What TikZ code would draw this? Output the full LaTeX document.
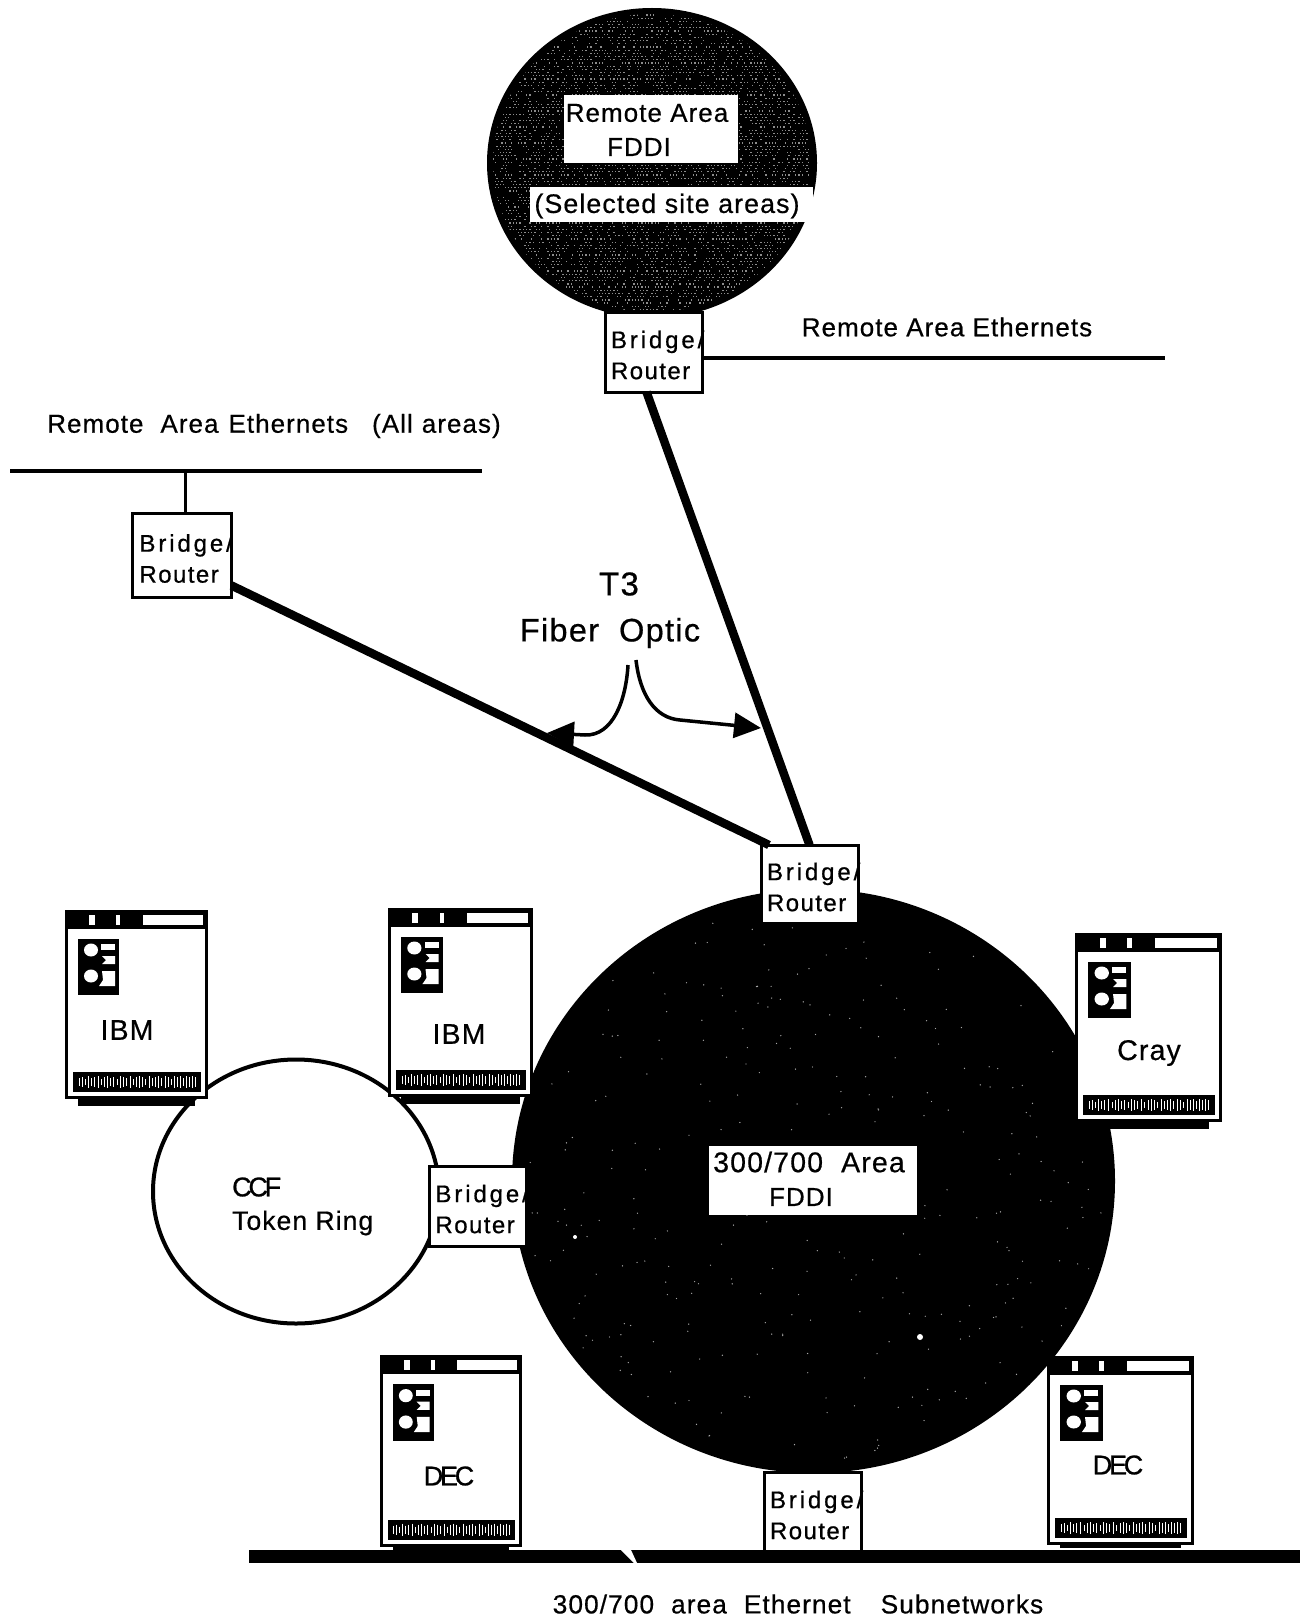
\documentclass[tikz,border=0pt]{standalone}
\usepackage{fontspec}
\setmainfont{Liberation Sans}
\usetikzlibrary{arrows.meta}
\newfontfamily\labelfont[FakeBold=0.55,LetterSpace=4]{Liberation Sans}
\newfontfamily\bridgefont[FakeBold=0.7,LetterSpace=12]{Liberation Sans}
\newfontfamily\routerfont[FakeBold=0.7,LetterSpace=6]{Liberation Sans}
\newfontfamily\tightfont[FakeBold=0.9,LetterSpace=-12]{Liberation Sans}
\newcommand{\brtext}{\mbox{}\\[-7.5pt]{\bridgefont Bridge/}\\{\routerfont Router}}
\tikzset{
  bridgebox/.style={draw=black,fill=white,line width=3,minimum width=97,minimum height=80,inner xsep=6,inner ysep=0,outer sep=0,
    text width=85,align=left,font=\fontsize{24}{31}\selectfont},
  plainlabel/.style={inner sep=0,align=center,font=\labelfont\fontsize{26}{34}\selectfont},
  biglabel/.style={plainlabel,font=\labelfont\fontsize{28.5}{34}\selectfont},
  tightlabel/.style={inner sep=0,font=\tightfont\fontsize{27}{32}\selectfont},
  ether/.style={line width=4},
  fibre/.style={line width=8.5},
  pointer/.style={line width=3.5,-{Triangle[length=27,width=25]}},
}
% #1 x, #2 y, #3 width, #4 height, #5 foot depth
\newcommand{\compbody}[5]{%
  \begin{scope}[shift={(#1,#2)},xscale=#3/143,yscale=#4/189]
    \fill[black] (13,185) rectangle (130,189+#5);
    \filldraw[draw=black,fill=white,line width=3.5] (1.5,1.5) rectangle (141.5,187.5);
    \fill[black] (2,2) rectangle (141,19);
    \fill[white] (78,5) rectangle (138,15);
    \fill[white] (24,5) rectangle (30,15);
    \fill[white] (51,5) rectangle (55,15);
    \fill[black] (13,29) rectangle (54,85);
    \fill[white] (26,40) ellipse (7 and 6.5);
    \fill[white] (26,66) ellipse (7 and 6.5);
    \fill[white] (36,34) rectangle (50,40);
    \fill[white] (37,46) -- (50,46) -- (50,54) -- (37,54) -- (41,50) -- cycle;
    \fill[white] (37,61) -- (50,61) -- (50,76) -- (34,76) -- (38,70) -- cycle;
    \fill[black] (8,162) rectangle (136,182);
    \foreach \tx/\th in {14/4,17/5,20/3,23/6,26/4,29/5,33/6,36/3,39/5,42/6,45/4,48/5,52/3,55/6,58/5,61/4,65/6,68/3,71/5,74/6,77/5,80/3,84/6,87/4,90/5,93/6,96/4,100/6,103/5,106/3,109/6,112/5,115/6,118/4,121/6,124/5,127/6,130/5}
      \draw[white,line width=1] (\tx,172-\th) -- (\tx,172+\th);
  \end{scope}%
}
\begin{document}
\begin{tikzpicture}[x=1pt,y=-1pt]
\useasboundingbox (0,0) rectangle (1300,1621);
\fill[white] (0,0) rectangle (1300,1621);

% named free ends
\coordinate (rightL) at (702,358);
\coordinate (rightR) at (1165,358);
\coordinate (leftL) at (10,471);
\coordinate (leftR) at (482,471);
\coordinate (leftStub) at (185,471);
\coordinate (busL) at (249,1556);
\coordinate (busR) at (1300,1556);
\coordinate (ptrA) at (628,665);
\coordinate (ptrB) at (636,660);
\coordinate (ptrAend) at (547,733);
\coordinate (ptrBend) at (761,728);

% upper FDDI cloud
\fill[black] (652,163) ellipse (165 and 155);
\begin{scope}
  \clip (652,163) ellipse (159 and 149);
  \pgfmathsetseed{17}
  \foreach \iy in {0,...,96}{
    \foreach \ix in {0,...,100}{
      \pgfmathsetmacro{\px}{488+3.3*\ix+1.65*mod(\iy,2)}
      \pgfmathsetmacro{\py}{8+3.2*\iy}
      \pgfmathparse{rnd<0.55?1:0}
      \ifnum\pgfmathresult=1\relax
        \fill[white!55!black] (\px,\py) rectangle +(1.3,1.3);
      \fi
    }
  }
\end{scope}
\fill[white] (564,95) rectangle (738,163);
\fill[white] (530,187) rectangle (813,222);
\node[plainlabel] (upA) at (647,113) {Remote Area};
\node[plainlabel] (upB) at (639,147) {FDDI};
\node[plainlabel,font=\labelfont\fontsize{26.8}{34}\selectfont] (upC) at (667,206) {(Selected site areas)};

% main FDDI
\fill[black] (813.5,1181) ellipse (301.5 and 292);
\begin{scope}
  \clip (813.5,1181) ellipse (290 and 280);
  \pgfmathsetseed{5}
  \foreach \i in {1,...,300}{
    \pgfmathsetmacro{\ang}{rnd*360}
    \pgfmathsetmacro{\rad}{sqrt(rnd)}
    \fill[white!65!black] ({813.5+290*\rad*cos(\ang)},{1181+280*\rad*sin(\ang)}) circle (0.7);
  }
\end{scope}
\fill[white] (920,1337) circle (3);
\fill[white] (575,1237) circle (2);
\fill[white] (709,1146) rectangle (917,1215);
\node[plainlabel,font=\labelfont\fontsize{28.5}{34}\selectfont] (mainA) at (809,1162) {300/700 \ Area};
\node[plainlabel] (mainB) at (801,1197) {FDDI};

% token ring
\draw[line width=4,fill=white] (296,1191.5) ellipse (143 and 132);

% computers
\compbody{65}{910}{143}{189}{7}
\compbody{388}{908}{145}{189}{7}
\compbody{1075}{933}{147}{189}{7}
\compbody{380}{1355}{142}{192}{3}
\compbody{1047}{1356}{147}{189}{3}
\node[biglabel] (ibmA) at (127,1030) {IBM};
\node[biglabel] (ibmB) at (459,1034) {IBM};
\node[biglabel] (cray) at (1149,1053) {Cray};
\node[tightlabel] (decA) at (449,1476) {DEC};
\node[tightlabel] (decB) at (1118,1465) {DEC};
\node[tightlabel,anchor=west] (ccf) at (232,1187) {CCF};
\node[plainlabel,anchor=west,font=\labelfont\fontsize{26.5}{34}\selectfont] (tokenring) at (232,1223) {Token Ring};

% Ethernet segments and connectors
\node[bridgebox] (topb) at (653.5,352) {\brtext};
\node[bridgebox,minimum width=99,minimum height=84] (leftb) at (182,555.5) {\brtext};
\node[bridgebox,minimum height=78] (midb) at (809.5,884) {\brtext};
\node[bridgebox,minimum height=80] (ringb) at (478,1206) {\brtext};
\node[bridgebox,minimum height=79] (botb) at (812.5,1512) {\brtext};

\draw[ether] (rightL) -- (rightR);
\draw[ether] (leftL) -- (leftR);
\draw[line width=3] (leftStub) -- (leftb.north -| leftStub);
\draw[fibre] ([xshift=-7pt]topb.south) -- (midb.north);
\draw[fibre] ([yshift=-30pt]leftb.east) -- ([xshift=8pt]midb.north west);
\draw[line width=13] (busL) -- (busR);
\fill[white] (621,1550) -- (631,1550) -- (637,1563) -- (634,1563) -- cycle;

\draw[pointer] (ptrA) .. controls (626,700) and (613,736) .. (585,735) -- (ptrAend);
\draw[pointer] (ptrB) .. controls (640,695) and (655,718) .. (680,720) -- (ptrBend);

% free labels
\node[plainlabel] (remR) at (947,327) {Remote Area Ethernets};
\node[plainlabel] (remL) at (274,426) {Remote\hspace{17pt}Area\hspace{10pt}Ethernets\hspace{24pt}(All\hspace{9pt}areas)};
\node[plainlabel,font=\labelfont\fontsize{33}{34}\selectfont] (tthree) at (619,584) {T3};
\node[plainlabel,font=\labelfont\fontsize{32.5}{34}\selectfont] (fiber) at (610,633) {Fiber\hspace{20pt}Optic};
\node[plainlabel,font=\labelfont\fontsize{26.3}{34}\selectfont] (sub) at (798,1604) {300/700\hspace{17pt}area\hspace{17pt}Ethernet\hspace{30pt}Subnetworks};
\end{tikzpicture}
\end{document}
